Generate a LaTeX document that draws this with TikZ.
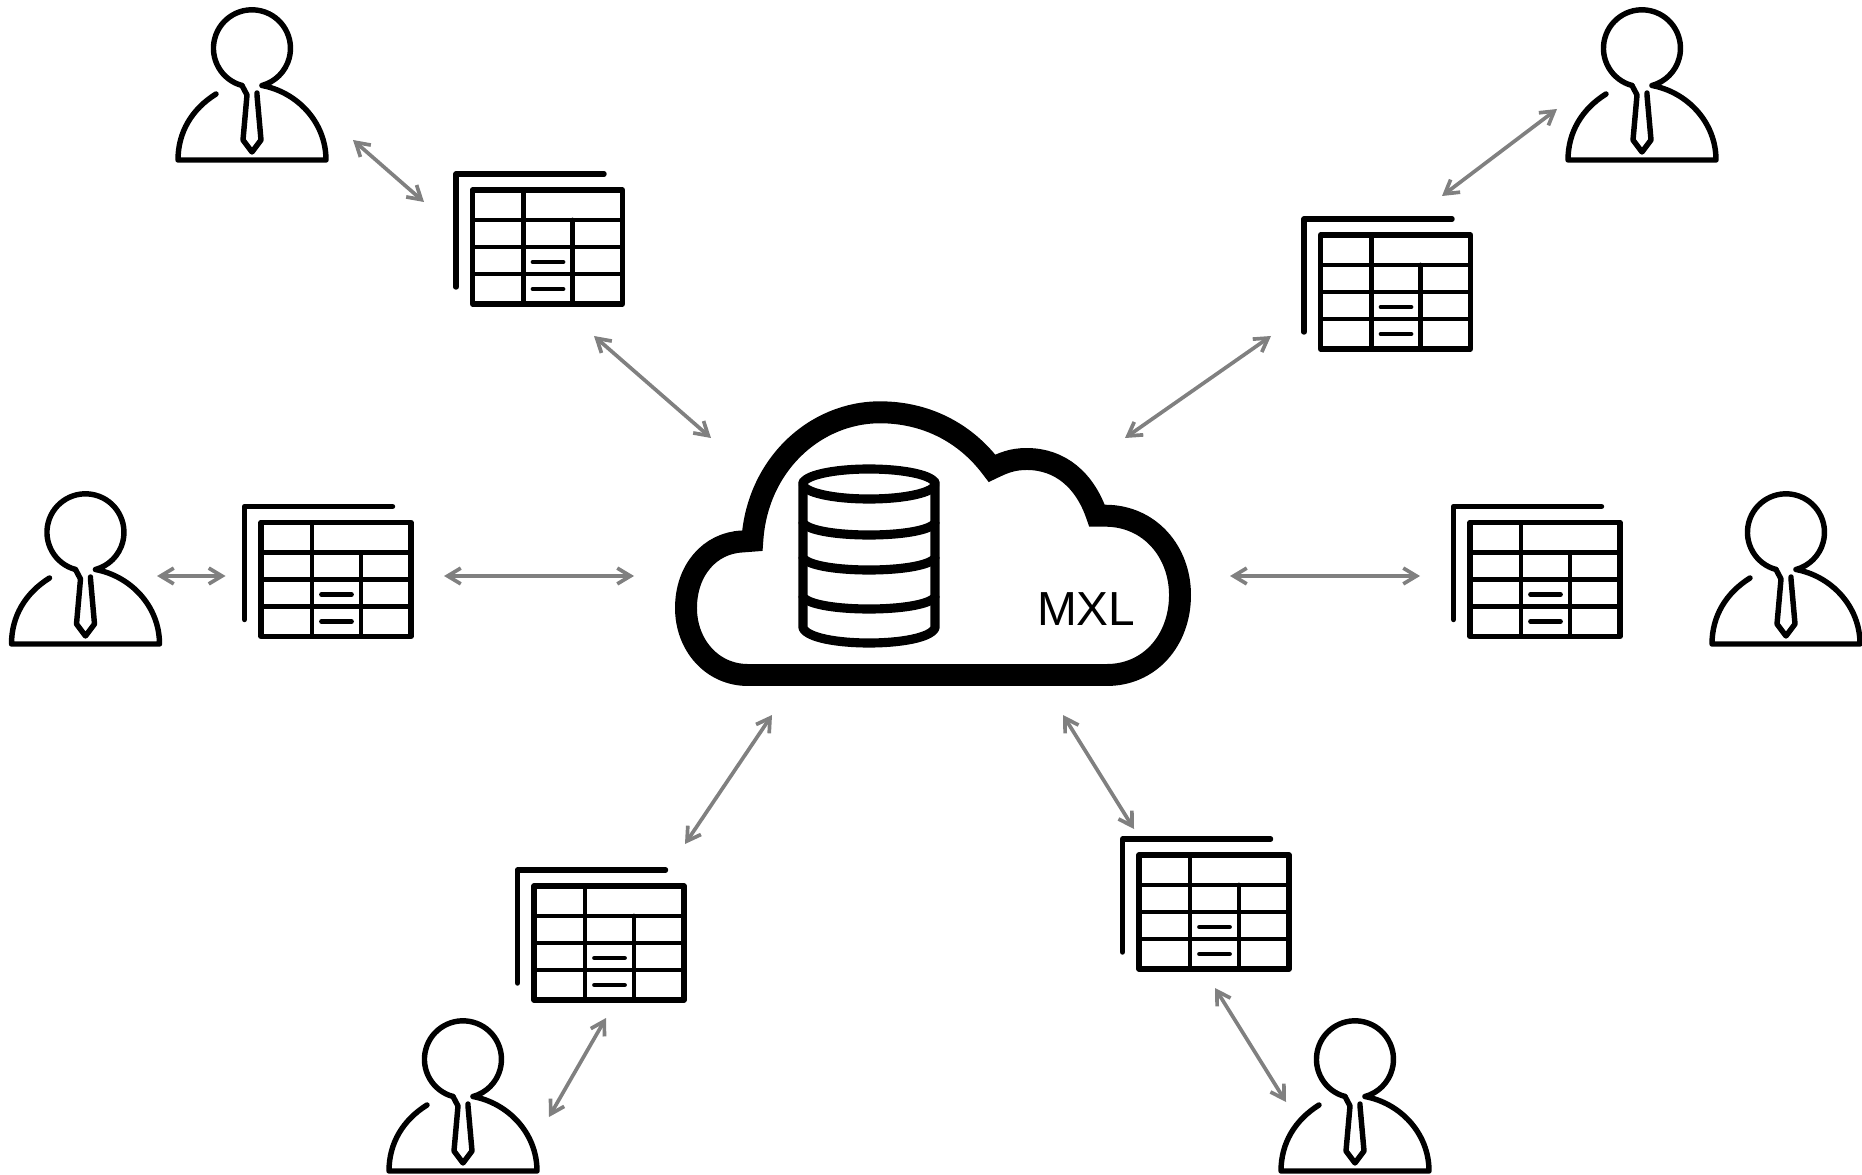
\documentclass[tikz,border=0pt]{standalone}
\usepackage{fontspec}
\setmainfont{Liberation Sans}
\usetikzlibrary{arrows.meta}
\usetikzlibrary{positioning}

\tikzset{
	usernode/.style={minimum width=3cm, minimum height=3.1cm},
	tablenode/.style={minimum width=3.34cm, minimum height=2.6cm},
	link/.style={draw=black!50, line width=2.1pt, {Straight Barb[length=7.5pt,width=9pt]}-{Straight Barb[length=7.5pt,width=9pt]}},
	icon/.style={draw=black, line width=3.1pt, line cap=round, line join=round},
	thinicon/.style={icon, line width=2.7pt},
	dbicon/.style={icon, line width=5.2pt},
	usericon/.pic={
		\draw[icon] (-10,3.5) arc[start angle=105, end angle=435, radius=38.5]
			.. controls (45,10) and (74,40) .. (74,78) -- (-74,78)
			.. controls (-74,50) and (-60,27) .. (-36,12);
		\draw[icon] (-10,3.5) -- (-5,13) -- (-9,58) -- (0,70) -- (9,58) -- (5,13) -- (5,11);
	},
	tableicon/.pic={
		\draw[icon] (-66.5,-49) rectangle (83.5,65);
		\draw[icon] (65,-65) -- (-83,-65) -- (-83,48);
		\draw[thinicon] (-66.5,-19) -- (83.5,-19);
		\draw[thinicon] (-66.5,8) -- (83.5,8);
		\draw[thinicon] (-66.5,35) -- (83.5,35);
		\draw[thinicon] (-15.5,-49) -- (-15.5,65);
		\draw[thinicon] (33.5,-19) -- (33.5,65);
		\draw[thinicon] (-6,23) -- (24,23);
		\draw[thinicon] (-6,50) -- (24,50);
	},
}

\begin{document}
\begin{tikzpicture}[x=0.02cm, y=-0.02cm, every node/.style={inner sep=0pt}]
	\useasboundingbox (0,0) rectangle (1862,1175);

	\begin{scope}
		\node[usernode] (u1) at (252,82) {};
		\node[usernode] (u2) at (1642,82) {};
		\node[usernode] (u3) at (85.5,566) {};
		\node[usernode] (u4) at (1786,566) {};
		\node[usernode] (u5) at (463,1093) {};
		\node[usernode] (u6) at (1355,1093) {};
		\node[tablenode] (t1) at (539,239) {};
		\node[tablenode] (t2) at (1387,284) {};
		\node[tablenode] (t3) at (327.5,571.5) {};
		\node[tablenode] (t4) at (1536.5,571.5) {};
		\node[tablenode] (t5) at (600.5,935) {};
		\node[tablenode] (t6) at (1205.5,904) {};
		\node[minimum width=10.3cm, minimum height=5.7cm] (cloud) at (933,545) {};
		\node[font=\fontsize{27.2}{30}\selectfont] (mxl) at (1086.3,609.5) {MXL};
	\end{scope}

	\pic at (u1) {usericon};
	\pic at (u2) {usericon};
	\pic at (u3) {usericon};
	\pic at (u4) {usericon};
	\pic at (u5) {usericon};
	\pic at (u6) {usericon};
	\pic at (t1) {tableicon};
	\pic at (t2) {tableicon};
	\pic at (t3) {tableicon};
	\pic at (t4) {tableicon};
	\pic at (t5) {tableicon};
	\pic at (t6) {tableicon};

	% cloud and database
	\draw[draw=black, line width=12.5pt, miter limit=10]
		(748,675) -- (1106.7,675)
		.. controls (1150,675) and (1180,640) .. (1180,595)
		.. controls (1180,552) and (1150,515.7) .. (1105,515.7) -- (1097,515.7)
		.. controls (1085,480) and (1060,459) .. (1026.7,459)
		.. controls (1012,459) and (1003,463) .. (992,468.3)
		.. controls (965,432) and (925,412.3) .. (880,412.3)
		.. controls (815,412.3) and (757,465) .. (752.3,540.7) -- (742,541.5)
		.. controls (710,543) and (686,570) .. (686,608)
		.. controls (686,645) and (712,675) .. (748,675) -- cycle;
	\draw[dbicon] (869,484) ellipse [x radius=66, y radius=15];
	\draw[dbicon] (803,482) -- (803,628)
		.. controls (812,648) and (926,648) .. (935,628) -- (935,482);
	\draw[dbicon] (803,523) .. controls (815,539) and (923,539) .. (935,523);
	\draw[dbicon] (803,558) .. controls (815,574) and (923,574) .. (935,558);
	\draw[dbicon] (803,597) .. controls (815,613) and (923,613) .. (935,597);

	% connections
	\begin{scope}
		\path[link] ([shift={(101,58)}]u1.center) -- ([shift={(-115,-37)}]t1.center);
		\path[link] ([shift={(55,97)}]t1.center) -- ([shift={(-222,-107)}]cloud.center);
		\path[link] ([shift={(-85,27)}]u2.center) -- ([shift={(55,-88)}]t2.center);
		\path[link] ([shift={(-116,52)}]t2.center) -- ([shift={(192,-107)}]cloud.center);
		\path[link] ([shift={(71.5,10)}]u3.center) -- ([shift={(-102,4.5)}]t3.center);
		\path[link] ([shift={(116.5,4.5)}]t3.center) -- ([shift={(-299,31)}]cloud.center);
		\path[link] ([shift={(297,31)}]cloud.center) -- ([shift={(-116.5,4.5)}]t4.center);
		\path[link] ([shift={(-161,170)}]cloud.center) -- ([shift={(84.5,-91)}]t5.center);
		\path[link] ([shift={(130,170)}]cloud.center) -- ([shift={(-71.5,-75)}]t6.center);
		\path[link] ([shift={(5.5,83)}]t5.center) -- ([shift={(86,24)}]u5.center);
		\path[link] ([shift={(9.5,84)}]t6.center) -- ([shift={(-69,9)}]u6.center);
	\end{scope}
\end{tikzpicture}
\end{document}
